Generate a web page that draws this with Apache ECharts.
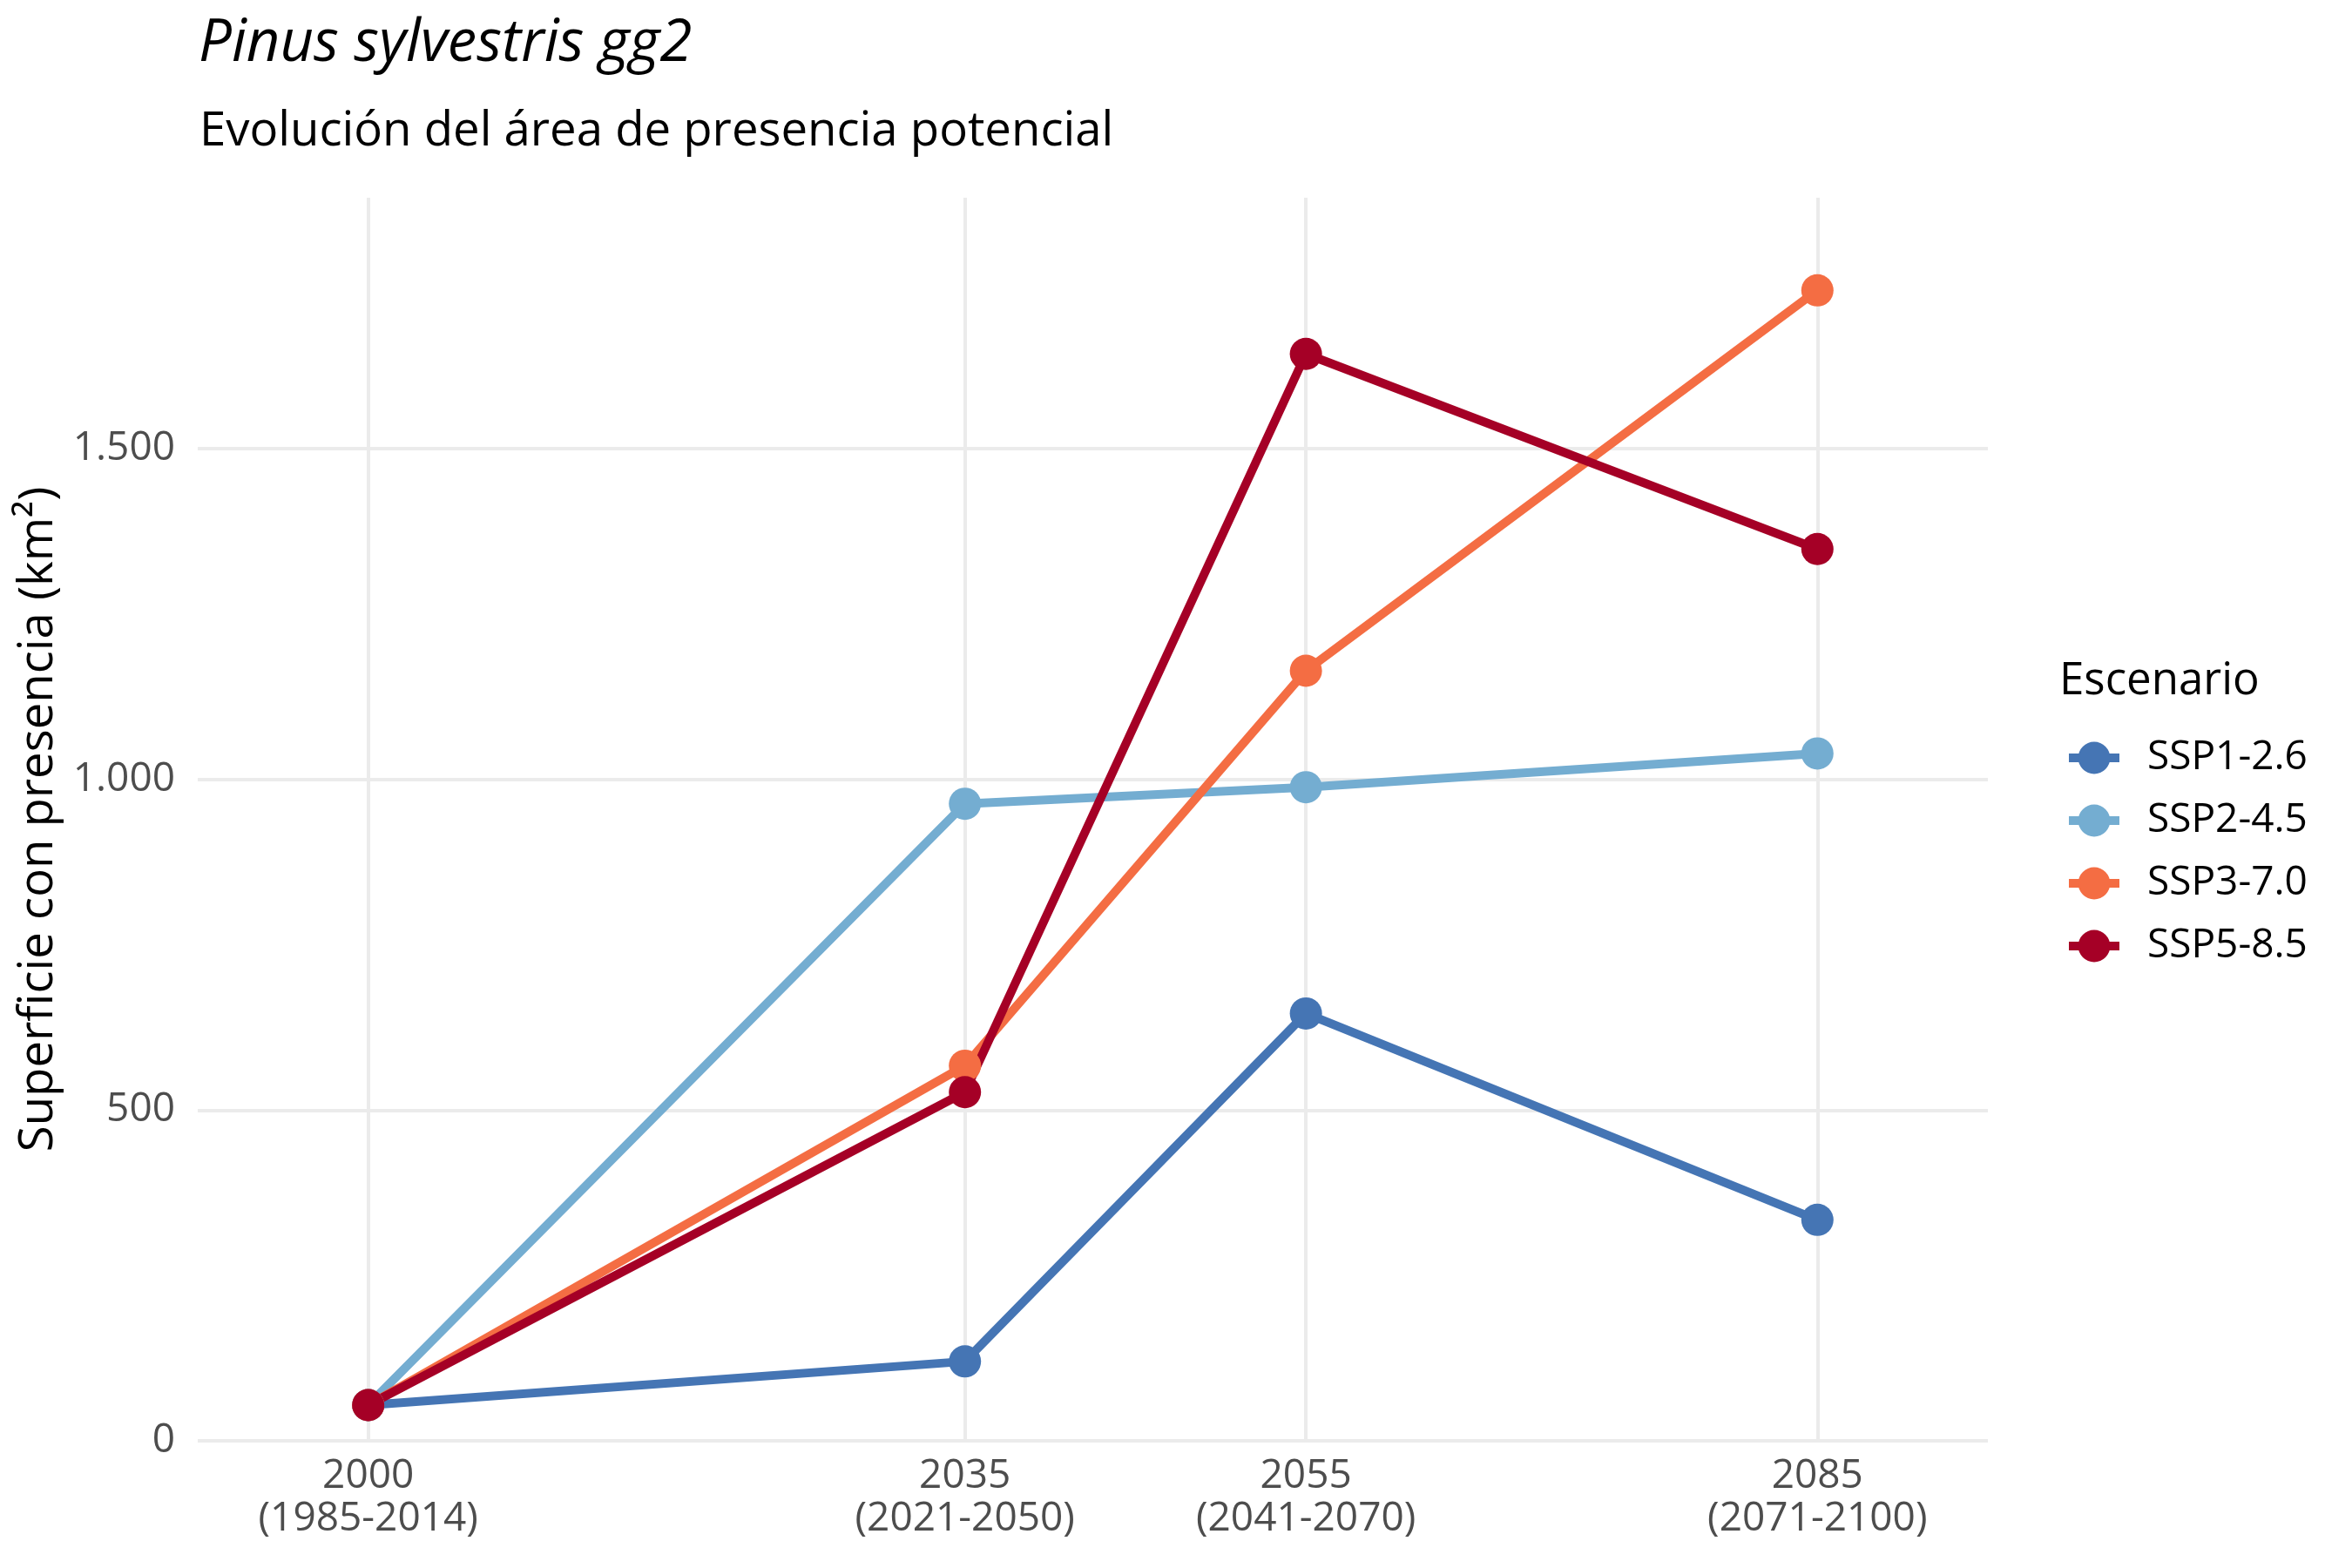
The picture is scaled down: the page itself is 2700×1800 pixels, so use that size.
<!DOCTYPE html>
<html>
<head>
<meta charset="utf-8">
<script src="https://cdn.jsdelivr.net/npm/echarts@6/dist/echarts.min.js"></script>
<style>
html,body{margin:0;padding:0;background:#fff;}
#chart{width:2700px;height:1800px;}
</style>
</head>
<body>
<div id="chart"></div>
<script>
const years = [2000, 2035, 2055, 2085];
const periodLabels = ['(1985-2014)', '(2021-2050)', '(2041-2070)', '(2071-2100)'];
const yTicks = [0, 500, 1000, 1500];
const scenarios = ['SSP1-2.6', 'SSP2-4.5', 'SSP3-7.0', 'SSP5-8.5'];
const colors = ['#4575B4', '#74ADD1', '#F46D43', '#A50026'];
const ssp126 = [54, 120, 646, 334];
const ssp245 = [54, 963, 988, 1039];
const ssp370 = [54, 567, 1164, 1739];
const ssp585 = [54, 527, 1643, 1348];
const seriesValues = [ssp126, ssp245, ssp370, ssp585];

const FONT = 'Open Sans';
const chart = echarts.init(document.getElementById('chart'));

function fmtThousands(v) {
  return String(v).replace(/\B(?=(\d{3})+(?!\d))/g, '.');
}

const series = scenarios.map((name, i) => ({
  name: name,
  type: 'line',
  data: years.map((y, j) => [y, seriesValues[i][j]]),
  symbol: 'circle',
  symbolSize: 37,
  lineStyle: { width: 10, color: colors[i] },
  itemStyle: { color: colors[i] },
  color: colors[i],
  emphasis: { disabled: true },
  animation: false
}));

chart.setOption({
  backgroundColor: '#ffffff',
  animation: false,
  textStyle: { fontFamily: FONT },
  title: [
    { text: 'Pinus sylvestris gg2', left: 228, top: 17, padding: 0,
      textStyle: { fontFamily: FONT, fontStyle: 'italic', fontWeight: 'normal', fontSize: 67, lineHeight: 67, color: '#000' } },
    { text: 'Evolución del área de presencia potencial', left: 229, top: 124, padding: 0,
      textStyle: { fontFamily: FONT, fontWeight: 'normal', fontSize: 54.5, lineHeight: 54.5, color: '#000' } },
    { text: 'Escenario', left: 2364, top: 757, padding: 0,
      textStyle: { fontFamily: FONT, fontWeight: 'normal', fontSize: 51, lineHeight: 51, color: '#000' } }
  ],
  legend: {
    orient: 'vertical',
    left: 2370,
    top: 847,
    padding: 0,
    itemWidth: 58,
    itemHeight: 46,
    itemGap: 26,
    data: scenarios,
    lineStyle: { width: 10 },
    textStyle: { fontFamily: FONT, fontSize: 46, lineHeight: 46, color: '#000', padding: [0, 0, 0, 27] },
    selectedMode: false
  },
  grid: { left: 227, right: 418, top: 227, bottom: 146, containLabel: false },
  xAxis: {
    type: 'value',
    min: 1990,
    max: 2095,
    axisLine: { show: false },
    axisTick: { show: false, customValues: years },
    axisLabel: {
      customValues: years,
      margin: 16,
      fontFamily: FONT,
      fontSize: 46,
      lineHeight: 49,
      color: '#4D4D4D',
      formatter: function (v) {
        const i = years.indexOf(v);
        return i >= 0 ? v + '\n' + periodLabels[i] : '';
      }
    },
    splitLine: { show: true, lineStyle: { color: '#EBEBEB', width: 4 } }
  },
  yAxis: {
    type: 'value',
    min: 0,
    max: 1879,
    name: 'Superficie con presencia (km²)',
    nameLocation: 'middle',
    nameGap: 155,
    nameTextStyle: { fontFamily: FONT, fontSize: 54.5, lineHeight: 54.5, color: '#000' },
    axisLine: { show: false },
    axisTick: { show: false, customValues: yTicks },
    axisLabel: {
      customValues: yTicks,
      margin: 26,
      fontFamily: FONT,
      fontSize: 46,
      color: '#4D4D4D',
      formatter: function (v) { return fmtThousands(v); }
    },
    splitLine: { show: true, lineStyle: { color: '#EBEBEB', width: 4 } }
  },
  series: series
});
</script>
</body>
</html>
